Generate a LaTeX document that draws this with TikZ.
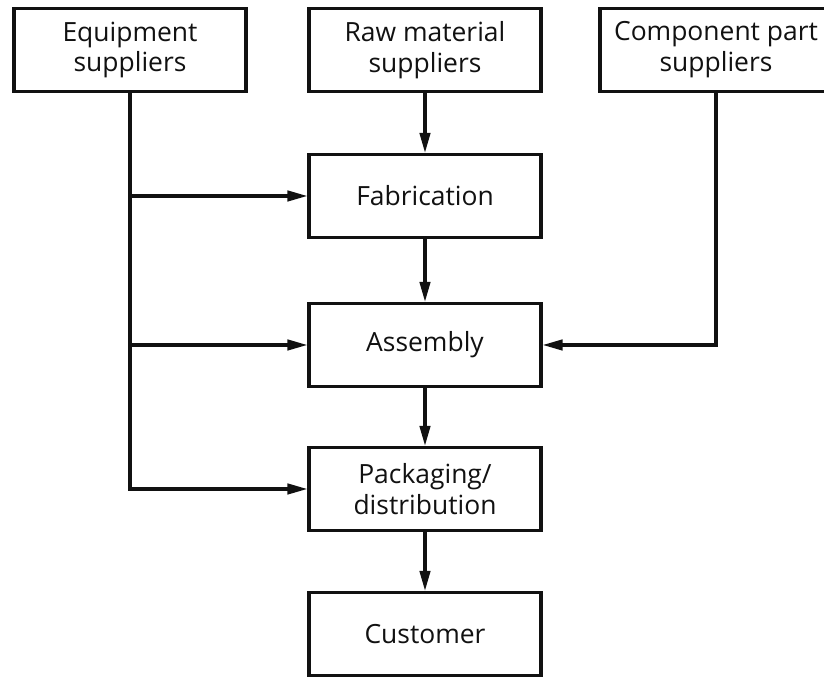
\documentclass[tikz,border=0pt]{standalone}
\usepackage{fontspec}
\setmainfont{Open Sans}
\usetikzlibrary{arrows.meta, positioning}
\definecolor{ink}{HTML}{111111}

\begin{document}
\begin{tikzpicture}[>={Triangle[length=5mm, width=2.6mm]}, line width=2.2pt,
  stage/.style={draw=ink, fill=white, minimum width=5.8cm, minimum height=2.075cm,
    align=center, font=\fontsize{18.8}{22}\selectfont, text=ink, inner sep=0pt}]

% Page frame
\clip (0,0) rectangle (20.6,16.925);
\useasboundingbox (0,0) rectangle (20.6,16.925);

% Suppliers
\node[stage] (equip) at (3.25,15.675) {Equipment\\suppliers};
\node[stage] (raw)   at (10.625,15.675) {Raw material\\suppliers};
\node[stage] (comp)  at (17.9,15.675) {Component part\\suppliers};

% Production chain
\node[stage] (fab)  at (10.625,12.025) {Fabrication};
\node[stage] (asm)  at (10.625,8.3) {Assembly};
\node[stage] (pack) at (10.625,4.7) {Packaging/\\distribution};
\node[stage] (cust) at (10.625,1.075) {Customer};

% Main flow down the middle
\draw[->, ink] (raw) -- (fab);
\draw[->, ink] (fab) -- (asm);
\draw[->, ink] (asm) -- (pack);
\draw[->, ink] (pack) -- (cust);

% Equipment feeds every stage
\draw[->, ink] (equip.south) |- (pack.west);
\draw[->, ink] (equip.south |- fab.west) -- (fab.west);
\draw[->, ink] (equip.south |- asm.west) -- (asm.west);

% Components go to assembly
\draw[->, ink] (comp.south) |- (asm.east);

\end{tikzpicture}
\end{document}
